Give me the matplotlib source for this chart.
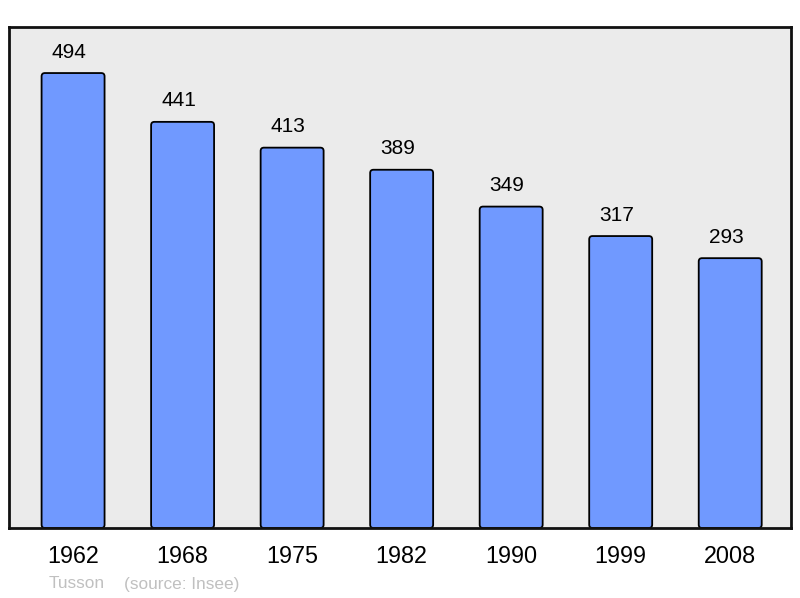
import matplotlib
matplotlib.use("Agg")
import matplotlib.pyplot as plt
from matplotlib.patches import FancyBboxPatch

years = ["1962", "1968", "1975", "1982", "1990", "1999", "2008"]
population = [494, 441, 413, 389, 349, 317, 293]
commune = "Tusson"
source = "(source: Insee)"

plt.rcParams['font.family'] = ['Liberation Sans', 'DejaVu Sans']

fig = plt.figure(figsize=(8, 5.98), dpi=100)
ax = fig.add_axes([9/800, 70/598, 782/800, 501/598])
ax.set_facecolor('#ebebeb')
ax.set_xlim(-0.585, 6.555)
ax.set_ylim(0, 544)

x = list(range(len(years)))
w = 0.575
for xi, v in zip(x, population):
    p = FancyBboxPatch((xi - w/2, 0), w, v,
                       boxstyle="round,pad=0,rounding_size=0.03",
                       mutation_aspect=544/7.14*782/501,
                       facecolor='#7099ff', edgecolor='black', linewidth=1.3, zorder=2)
    ax.add_patch(p)
    ax.annotate(str(v), (xi, v), xytext=(-4, 21), textcoords='offset pixels',
                ha='center', va='center', fontsize=15, color='black')

for s in ax.spines.values():
    s.set_linewidth(2)
    s.set_color('#111111')
ax.set_xticks(x)
ax.set_xticklabels(years, fontsize=16.8)
ax.tick_params(axis='x', length=0, pad=12)
ax.set_yticks([])

fig.text(49/800, 1 - 584/598, commune, fontsize=12.4, color='#c0c0c0', va='center', ha='left')
fig.text(124/800, 1 - 584/598, source, fontsize=12.4, color='#c0c0c0', va='center', ha='left')

fig.savefig("out.png", dpi=100)
